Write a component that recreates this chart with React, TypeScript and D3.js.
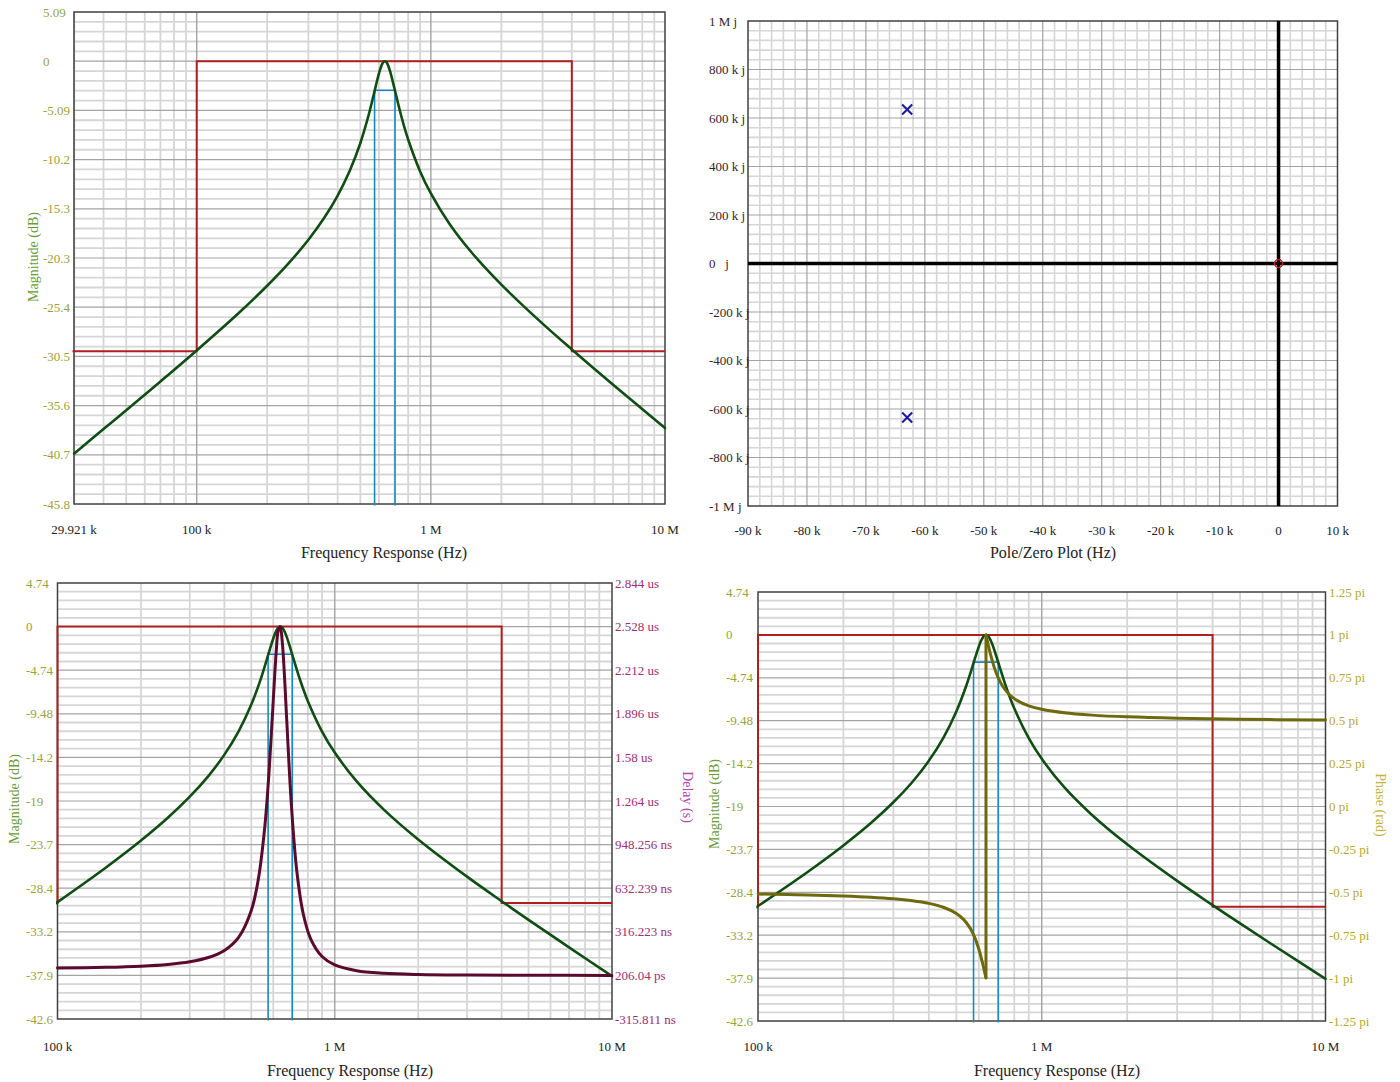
import React from 'react';
import * as d3 from 'd3';

// ---------------- DATA ----------------
// Magnitude response
const magFreqHz = [29921, 40e3, 50e3, 70e3, 100e3, 150e3, 200e3, 250e3, 300e3, 350e3, 400e3, 450e3, 500e3, 540e3, 570e3, 585e3, 600e3, 610e3, 620e3, 628e3, 636e3, 644e3, 650e3, 660e3, 670e3, 685e3, 700e3, 750e3, 800e3, 900e3, 1e6, 1.2e6, 1.5e6, 2e6, 3e6, 4e6, 5e6, 7e6, 10e6];
const magDb = [-40.6, -38.06, -36.1, -33.13, -29.92, -26.13, -23.23, -20.76, -18.47, -16.23, -13.9, -11.37, -8.46, -5.75, -3.48, -2.34, -1.29, -0.71, -0.28, -0.07, 0, -0.07, -0.21, -0.57, -1.06, -1.94, -2.88, -5.8, -8.1, -11.4, -13.68, -16.81, -19.84, -23.11, -27.15, -29.82, -31.84, -34.83, -37.96];

// Group delay (ns)
const delayFreqHz = [100e3, 150e3, 200e3, 250e3, 300e3, 350e3, 400e3, 450e3, 500e3, 530e3, 560e3, 580e3, 600e3, 615e3, 625e3, 636e3, 647e3, 660e3, 680e3, 700e3, 730e3, 770e3, 820e3, 900e3, 1e6, 1.2e6, 1.5e6, 2e6, 3e6, 5e6, 10e6];
const delayNs = [53.33, 58.51, 66.82, 79.36, 98.78, 129.66, 181.57, 276.43, 471.32, 696.26, 1087.45, 1489.1, 1992.7, 2345.4, 2494.8, 2527.5, 2412.5, 2137.9, 1625.9, 1188.7, 753.4, 445.25, 261.84, 137.31, 75.99, 33.76, 15.46, 6.8, 2.55, 0.84, 0.206];

// Phase (units of pi)
const phaseFreqHz = [100e3, 150e3, 200e3, 250e3, 300e3, 350e3, 400e3, 450e3, 500e3, 530e3, 560e3, 580e3, 600e3, 615e3, 625e3, 632e3, 636e3, 636e3, 640e3, 647e3, 660e3, 680e3, 700e3, 730e3, 770e3, 820e3, 900e3, 1e6, 1.2e6, 1.5e6, 2e6, 3e6, 5e6, 10e6];
const phasePi = [-0.5102, -0.5157, -0.522, -0.5292, -0.5381, -0.5494, -0.5647, -0.5871, -0.6233, -0.6576, -0.7101, -0.7612, -0.8307, -0.896, -0.9445, -0.9797, -1, 1, 0.9799, 0.9454, 0.886, 0.8107, 0.7549, 0.6978, 0.6514, 0.6171, 0.5868, 0.5663, 0.5461, 0.5325, 0.5223, 0.514, 0.5081, 0.504];

// Specification mask
const maskFreqHz = [10e3, 100e3, 100e3, 4e6, 4e6, 10e6];
const maskDb = [-30, -30, 0, 0, -30, -30];

// -3 dB band markers
const bandFreqHz = [575e3, 575e3, 703e3, 703e3];
const bandDb = [-100, -3, -3, -100];

// Poles / zeros (Hz)
const poleRe = [-63e3, -63e3];
const poleIm = [635e3, -635e3];
const zeroRe = [0];
const zeroIm = [0];

// Tick labels
const p1YTicks = [5.09, 0, -5.09, -10.18, -15.27, -20.36, -25.45, -30.54, -35.63, -40.72, -45.81];
const p1YLabels = ['5.09', '0', '-5.09', '-10.2', '-15.3', '-20.3', '-25.4', '-30.5', '-35.6', '-40.7', '-45.8'];
const p1XTicks = [29921, 100e3, 1e6, 10e6];
const p1XLabels = ['29.921 k', '100 k', '1 M', '10 M'];

const magYTicks = [4.7342, 0, -4.7342, -9.4684, -14.2026, -18.9368, -23.671, -28.4052, -33.1394, -37.8736, -42.6078];
const magYLabels = ['4.74', '0', '-4.74', '-9.48', '-14.2', '-19', '-23.7', '-28.4', '-33.2', '-37.9', '-42.6'];
const fXTicks = [100e3, 1e6, 10e6];
const fXLabels = ['100 k', '1 M', '10 M'];

const delayTicksNs = [2844.36, 2528.34, 2212.33, 1896.31, 1580.29, 1264.28, 948.256, 632.239, 316.223, 0.206, -315.811];
const delayLabels = ['2.844 us', '2.528 us', '2.212 us', '1.896 us', '1.58 us', '1.264 us', '948.256 ns', '632.239 ns', '316.223 ns', '206.04 ps', '-315.811 ns'];

const phaseTicks = [1.25, 1, 0.75, 0.5, 0.25, 0, -0.25, -0.5, -0.75, -1, -1.25];
const phaseLabels = ['1.25 pi', '1 pi', '0.75 pi', '0.5 pi', '0.25 pi', '0 pi', '-0.25 pi', '-0.5 pi', '-0.75 pi', '-1 pi', '-1.25 pi'];

const pzXTicks = [-90e3, -80e3, -70e3, -60e3, -50e3, -40e3, -30e3, -20e3, -10e3, 0, 10e3];
const pzXLabels = ['-90 k', '-80 k', '-70 k', '-60 k', '-50 k', '-40 k', '-30 k', '-20 k', '-10 k', '0', '10 k'];
const pzYTicks = [1e6, 800e3, 600e3, 400e3, 200e3, 0, -200e3, -400e3, -600e3, -800e3, -1e6];
const pzYLabels = ['1 M j', '800 k j', '600 k j', '400 k j', '200 k j', '0   j', '-200 k j', '-400 k j', '-600 k j', '-800 k j', '-1 M j'];

// ---------------- STYLE ----------------
const FONT = '"Liberation Serif", "Times New Roman", serif';
const MINOR = '#d6d6d6';
const MAJOR = '#a3a3a3';
const FRAME = '#404040';
const MAG_TICK = '#98a33c';
const MAG_TITLE = '#6a9a3a';
const DELAY_TICK = '#a02c74';
const DELAY_TITLE = '#b04aa8';
const PHASE_TICK = '#b5a82a';
const PHASE_TITLE = '#c4b43c';
const TEXT = '#222';
const GREEN = '#0f4d12';
const RED = '#b01e1e';
const BLUE = '#1a88c0';
const MAROON = '#5a0a2c';
const OLIVE = '#6e690c';

type Rect = { x0: number; x1: number; y0: number; y1: number };

type Series = { fx: number[]; vy: number[]; color: string; width: number; axis: 'left' | 'right'; curve: 'smooth' | 'linear'; wrap?: boolean };

type FreqProps = {
  id: string;
  rect: Rect;
  fMin: number;
  fMax: number;
  yTicks: number[];
  yLabels: string[];
  yLabelX: number;
  xTicks: number[];
  xLabels: string[];
  xLabelY: number;
  title: string;
  titleX: number;
  titleY: number;
  magTitleX: number;
  magTitleY: number;
  right?: { ticks: number[]; labels: string[]; labelX: number; title: string; titleX: number; titleY: number; tickColor: string; titleColor: string };
  series: Series[];
};

function FreqPanel(p: FreqProps) {
  const r = p.rect;
  const xs = d3.scaleLog().domain([p.fMin, p.fMax]).range([r.x0, r.x1]);
  const ys = d3.scaleLinear().domain([p.yTicks[p.yTicks.length - 1], p.yTicks[0]]).range([r.y1, r.y0]);
  const rs = p.right ? d3.scaleLinear().domain([p.right.ticks[p.right.ticks.length - 1], p.right.ticks[0]]).range([r.y1, r.y0]) : null;

  const vMinor: number[] = [];
  const vMajor: number[] = [];
  for (let n = Math.floor(Math.log10(p.fMin)); n <= Math.ceil(Math.log10(p.fMax)); n++) {
    for (let k = 1; k <= 9; k++) {
      const f = k * Math.pow(10, n);
      if (f <= p.fMin * 1.001 || f >= p.fMax * 0.999) continue;
      (k === 1 ? vMajor : vMinor).push(f);
    }
  }
  const hMinor: number[] = [];
  const hMajor: number[] = [];
  for (let i = 0; i < p.yTicks.length - 1; i++) {
    const a = ys(p.yTicks[i]);
    const b = ys(p.yTicks[i + 1]);
    if (i > 0) hMajor.push(a);
    for (let j = 1; j <= 4; j++) hMinor.push(a + ((b - a) * j) / 5);
  }

  const paths = p.series.map((s, si) => {
    const yScale = s.axis === 'left' ? ys : (rs as d3.ScaleLinear<number, number>);
    const pts = s.fx.map((f, i) => [xs(f), yScale(s.vy[i])] as [number, number]);
    if (s.curve === 'linear') {
      const line = d3.line();
      return <path key={si} d={line(pts) || ''} fill="none" stroke={s.color} strokeWidth={s.width} strokeLinejoin="miter" />;
    }
    // split on wrap discontinuities
    const segs: [number, number][][] = [[]];
    s.fx.forEach((f, i) => {
      if (i > 0 && s.wrap && Math.abs(s.vy[i] - s.vy[i - 1]) > 1) segs.push([]);
      segs[segs.length - 1].push(pts[i]);
    });
    const line = d3.line().curve(d3.curveCatmullRom.alpha(0.5));
    const out: React.ReactNode[] = [];
    segs.forEach((sg, k) => {
      out.push(<path key={`s${k}`} d={line(sg) || ''} fill="none" stroke={s.color} strokeWidth={s.width} strokeLinecap="round" strokeLinejoin="round" />);
      if (k > 0) {
        const prev = segs[k - 1][segs[k - 1].length - 1];
        const cur = sg[0];
        out.push(<line key={`c${k}`} x1={prev[0]} y1={prev[1]} x2={cur[0]} y2={cur[1]} stroke={s.color} strokeWidth={s.width} />);
      }
    });
    return <g key={si}>{out}</g>;
  });

  return (
    <g>
      <defs>
        <clipPath id={p.id}>
          <rect x={r.x0 - 1.5} y={r.y0 - 1.5} width={r.x1 - r.x0 + 3} height={r.y1 - r.y0 + 3} />
        </clipPath>
      </defs>
      <rect x={r.x0} y={r.y0} width={r.x1 - r.x0} height={r.y1 - r.y0} fill="#fff" />
      {vMinor.map((f, i) => (
        <line key={`vm${i}`} x1={xs(f)} x2={xs(f)} y1={r.y0} y2={r.y1} stroke={MINOR} strokeWidth={1.8} />
      ))}
      {hMinor.map((y, i) => (
        <line key={`hm${i}`} x1={r.x0} x2={r.x1} y1={y} y2={y} stroke={MINOR} strokeWidth={1.8} />
      ))}
      {vMajor.map((f, i) => (
        <line key={`vM${i}`} x1={xs(f)} x2={xs(f)} y1={r.y0} y2={r.y1} stroke={MAJOR} strokeWidth={1.4} />
      ))}
      {hMajor.map((y, i) => (
        <line key={`hM${i}`} x1={r.x0} x2={r.x1} y1={y} y2={y} stroke={MAJOR} strokeWidth={1.2} />
      ))}
      <rect x={r.x0} y={r.y0} width={r.x1 - r.x0} height={r.y1 - r.y0} fill="none" stroke={FRAME} strokeWidth={1.5} />
      <g clipPath={`url(#${p.id})`}>{paths}</g>
      {p.yTicks.map((v, i) => (
        <text key={`yl${i}`} x={p.yLabelX} y={ys(v)} dy="0.35em" fontSize={13} fill={MAG_TICK}>
          {p.yLabels[i]}
        </text>
      ))}
      {p.xTicks.map((f, i) => (
        <text key={`xl${i}`} x={xs(f)} y={p.xLabelY} dy="0.35em" fontSize={13} fill={TEXT} textAnchor="middle">
          {p.xLabels[i]}
        </text>
      ))}
      <text x={p.titleX} y={p.titleY} dy="0.35em" fontSize={16} fill={TEXT} textAnchor="middle">
        {p.title}
      </text>
      <text transform={`translate(${p.magTitleX},${p.magTitleY}) rotate(-90)`} dy="0.35em" fontSize={14} fill={MAG_TITLE} textAnchor="middle">
        Magnitude (dB)
      </text>
      {p.right && rs && (
        <g>
          {p.right.ticks.map((v, i) => (
            <text key={`rl${i}`} x={p.right!.labelX} y={rs(v)} dy="0.35em" fontSize={13} fill={p.right!.tickColor}>
              {p.right!.labels[i]}
            </text>
          ))}
          <text transform={`translate(${p.right.titleX},${p.right.titleY}) rotate(90)`} dy="0.35em" fontSize={14} fill={p.right.titleColor} textAnchor="middle">
            {p.right.title}
          </text>
        </g>
      )}
    </g>
  );
}

function PoleZeroPanel() {
  const r: Rect = { x0: 748, x1: 1337.5, y0: 21, y1: 506 };
  const xs = d3.scaleLinear().domain([-90e3, 10e3]).range([r.x0, r.x1]);
  const ys = d3.scaleLinear().domain([-1e6, 1e6]).range([r.y1, r.y0]);
  const vMinor: number[] = [];
  const vMajor: number[] = [];
  for (let v = -90e3; v <= 10e3 + 1; v += 2e3) {
    if (v <= -90e3 || v >= 10e3) continue;
    (Math.abs(v % 10e3) < 1 ? vMajor : vMinor).push(v);
  }
  const hMinor: number[] = [];
  const hMajor: number[] = [];
  for (let v = -1e6; v <= 1e6 + 1; v += 40e3) {
    if (v <= -1e6 || v >= 1e6) continue;
    (Math.abs(v % 200e3) < 1 ? hMajor : hMinor).push(v);
  }
  const s = 5;
  return (
    <g>
      <rect x={r.x0} y={r.y0} width={r.x1 - r.x0} height={r.y1 - r.y0} fill="#fff" />
      {vMinor.map((v, i) => (
        <line key={`vm${i}`} x1={xs(v)} x2={xs(v)} y1={r.y0} y2={r.y1} stroke={MINOR} strokeWidth={1.6} />
      ))}
      {hMinor.map((v, i) => (
        <line key={`hm${i}`} x1={r.x0} x2={r.x1} y1={ys(v)} y2={ys(v)} stroke={MINOR} strokeWidth={1.6} />
      ))}
      {vMajor.map((v, i) => (
        <line key={`vM${i}`} x1={xs(v)} x2={xs(v)} y1={r.y0} y2={r.y1} stroke={MAJOR} strokeWidth={1.2} />
      ))}
      {hMajor.map((v, i) => (
        <line key={`hM${i}`} x1={r.x0} x2={r.x1} y1={ys(v)} y2={ys(v)} stroke={MAJOR} strokeWidth={1.2} />
      ))}
      <rect x={r.x0} y={r.y0} width={r.x1 - r.x0} height={r.y1 - r.y0} fill="none" stroke={FRAME} strokeWidth={1.5} />
      <line x1={r.x0} x2={r.x1} y1={ys(0)} y2={ys(0)} stroke="#000" strokeWidth={3.5} />
      <line x1={xs(0)} x2={xs(0)} y1={r.y0} y2={r.y1} stroke="#000" strokeWidth={3.5} />
      {poleRe.map((re, i) => {
        const cx = xs(re);
        const cy = ys(poleIm[i]);
        return (
          <g key={`p${i}`} stroke="#1a1aa8" strokeWidth={2}>
            <line x1={cx - s} y1={cy - s} x2={cx + s} y2={cy + s} />
            <line x1={cx - s} y1={cy + s} x2={cx + s} y2={cy - s} />
          </g>
        );
      })}
      {zeroRe.map((re, i) => (
        <circle key={`z${i}`} cx={xs(re)} cy={ys(zeroIm[i])} r={4} fill="none" stroke="#c02020" strokeWidth={1.5} />
      ))}
      {pzYTicks.map((v, i) => (
        <text key={`yl${i}`} x={709} y={ys(v)} dy="0.35em" fontSize={13} fill="#33262a" style={{ whiteSpace: 'pre' }}>
          {pzYLabels[i]}
        </text>
      ))}
      {pzXTicks.map((v, i) => (
        <text key={`xl${i}`} x={xs(v)} y={530} dy="0.35em" fontSize={13} fill={TEXT} textAnchor="middle">
          {pzXLabels[i]}
        </text>
      ))}
      <text x={1053} y={552} dy="0.35em" fontSize={16} fill={TEXT} textAnchor="middle">
        Pole/Zero Plot (Hz)
      </text>
    </g>
  );
}

export default function App() {
  const magSeries = (w: number): Series => ({ fx: magFreqHz, vy: magDb, color: GREEN, width: w, axis: 'left', curve: 'smooth' });
  const maskSeries: Series = { fx: maskFreqHz, vy: maskDb, color: RED, width: 2, axis: 'left', curve: 'linear' };
  const bandSeries: Series = { fx: bandFreqHz, vy: bandDb, color: BLUE, width: 1.6, axis: 'left', curve: 'linear' };
  return (
    <svg width={1400} height={1082} style={{ position: 'absolute', left: 0, top: 0 }} fontFamily={FONT}>
      <rect width={1400} height={1082} fill="#fff" />
      <FreqPanel
        id="c1"
        rect={{ x0: 74, x1: 665, y0: 12, y1: 504 }}
        fMin={29921}
        fMax={10e6}
        yTicks={p1YTicks}
        yLabels={p1YLabels}
        yLabelX={43}
        xTicks={p1XTicks}
        xLabels={p1XLabels}
        xLabelY={529}
        title="Frequency Response (Hz)"
        titleX={384}
        titleY={552}
        magTitleX={33}
        magTitleY={257}
        series={[maskSeries, bandSeries, magSeries(2.6)]}
      />
      <PoleZeroPanel />
      <FreqPanel
        id="c3"
        rect={{ x0: 57.5, x1: 612, y0: 583, y1: 1019 }}
        fMin={100e3}
        fMax={10e6}
        yTicks={magYTicks}
        yLabels={magYLabels}
        yLabelX={26}
        xTicks={fXTicks}
        xLabels={fXLabels}
        xLabelY={1046}
        title="Frequency Response (Hz)"
        titleX={350}
        titleY={1070}
        magTitleX={14}
        magTitleY={799}
        right={{ ticks: delayTicksNs, labels: delayLabels, labelX: 615, title: 'Delay (s)', titleX: 688, titleY: 797, tickColor: DELAY_TICK, titleColor: DELAY_TITLE }}
        series={[
          maskSeries,
          bandSeries,
          magSeries(2.6),
          { fx: delayFreqHz, vy: delayNs, color: MAROON, width: 3, axis: 'right', curve: 'smooth' },
        ]}
      />
      <FreqPanel
        id="c4"
        rect={{ x0: 758, x1: 1325.5, y0: 592, y1: 1021 }}
        fMin={100e3}
        fMax={10e6}
        yTicks={magYTicks}
        yLabels={magYLabels}
        yLabelX={726}
        xTicks={fXTicks}
        xLabels={fXLabels}
        xLabelY={1046}
        title="Frequency Response (Hz)"
        titleX={1057}
        titleY={1070}
        magTitleX={714}
        magTitleY={804}
        right={{ ticks: phaseTicks, labels: phaseLabels, labelX: 1329, title: 'Phase (rad)', titleX: 1381, titleY: 805, tickColor: PHASE_TICK, titleColor: PHASE_TITLE }}
        series={[
          maskSeries,
          bandSeries,
          magSeries(2.6),
          { fx: phaseFreqHz, vy: phasePi, color: OLIVE, width: 3, axis: 'right', curve: 'smooth', wrap: true },
        ]}
      />
    </svg>
  );
}
